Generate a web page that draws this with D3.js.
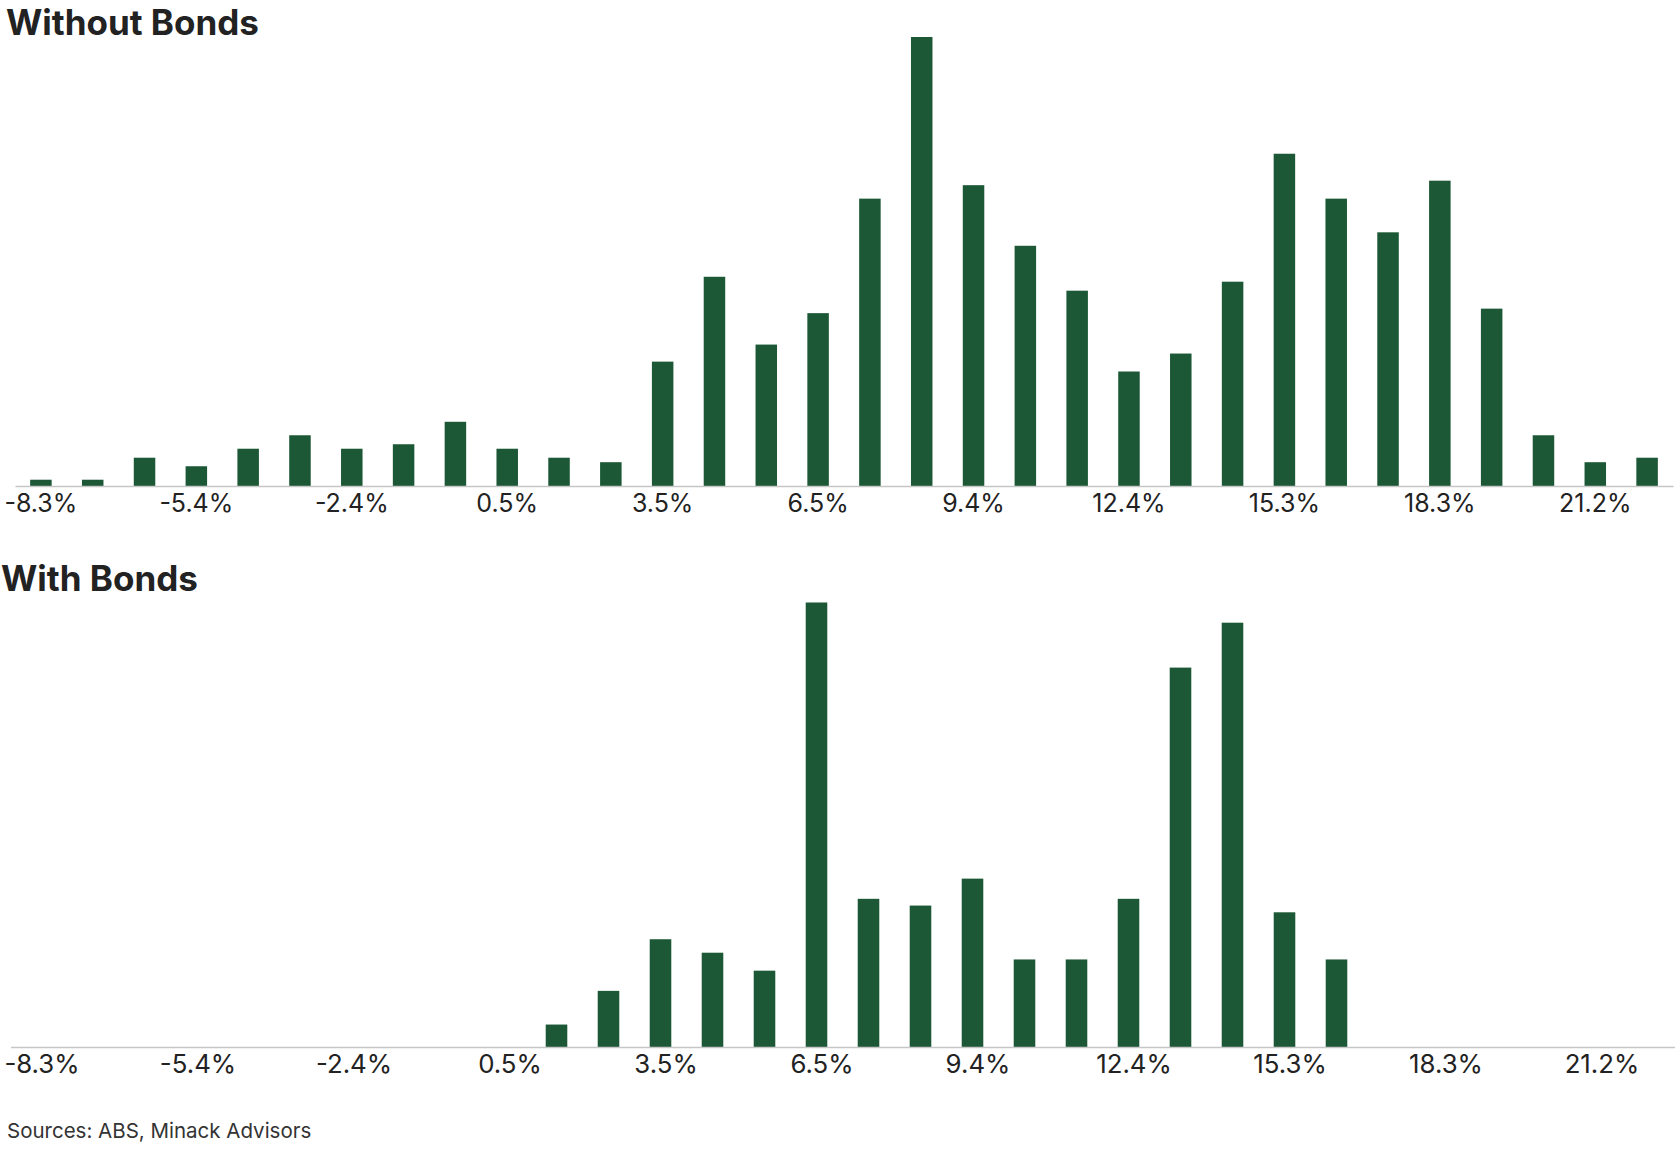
<!DOCTYPE html>
<html>
<head>
<meta charset="utf-8">
<script src="https://cdn.jsdelivr.net/npm/d3@7"></script>
<style>
  body { margin: 0; background: #fff; }
  .title { font-family: Inter, "Noto Sans", sans-serif; font-weight: 700; font-size: 35px; fill: #222; }
  .axis text { font-family: Inter, "Noto Sans", sans-serif; font-size: 25px; fill: #222; }
  .axis path { stroke: #c6c6c6; stroke-width: 1.5; }
  .source { font-family: Inter, "Noto Sans", sans-serif; font-size: 20.5px; fill: #333; }
</style>
</head>
<body>
<div id="chart"></div>
<script>
// return bins (one bar each)
var bins = ["-8.3%","-7.3%","-6.3%","-5.4%","-4.4%","-3.4%","-2.4%","-1.4%","-0.4%","0.5%",
            "1.5%","2.5%","3.5%","4.5%","5.5%","6.5%","7.4%","8.4%","9.4%","10.4%",
            "11.4%","12.4%","13.3%","14.3%","15.3%","16.3%","17.3%","18.3%","19.2%","20.2%",
            "21.2%","22.2%"];

// labels shown under each axis
var tickLabels = ["-8.3%","-5.4%","-2.4%","0.5%","3.5%","6.5%","9.4%","12.4%","15.3%","18.3%","21.2%"];

// bar heights
var withoutBonds = [1.4, 1.4, 6.3, 4.4, 8.3, 11.3, 8.3, 9.3, 14.3, 8.3,
                    6.3, 5.3, 27.7, 46.6, 31.5, 38.5, 64, 100, 67, 53.5,
                    43.5, 25.5, 29.5, 45.5, 74, 64, 56.5, 68, 39.5, 11.3,
                    5.3, 6.3];
var withBonds = [0, 0, 0, 0, 0, 0, 0, 0, 0, 0,
                 5, 12.5, 24, 21, 17, 99, 33, 31.5, 37.5, 19.5,
                 19.5, 33, 84.5, 94.5, 30, 19.5, 0, 0, 0, 0,
                 0, 0];

var width = 1680, height = 1150;

var svg = d3.select("#chart").append("svg")
    .attr("width", width)
    .attr("height", height);

function panel(values, x0, x1, top, base, labelShift, labelSize) {
    var x = d3.scaleBand()
        .domain(bins)
        .range([x0, x1])
        .paddingInner(0.585)
        .paddingOuter(0.2925);
    var y = d3.scaleLinear().domain([0, 100]).range([base, top]);
    var g = svg.append("g");

    g.selectAll("rect")
        .data(values.map((v, i) => ({bin: bins[i], v: v})).filter(d => d.v > 0))
        .enter().append("rect")
        .attr("x", d => x(d.bin))
        .attr("width", x.bandwidth())
        .attr("y", d => y(d.v))
        .attr("height", d => base - y(d.v))
        .attr("fill", "#1c5835");

    var ax = g.append("g")
        .attr("class", "axis")
        .attr("transform", "translate(0," + base + ")")
        .call(d3.axisBottom(x).tickValues(tickLabels).tickSize(0).tickPadding(8));
    ax.selectAll(".tick text")
        .attr("dx", labelShift)
        .style("font-size", labelSize + "px");
    ax.select(".domain").attr("fill", "none");
}

// Without Bonds
panel(withoutBonds, 15, 1673, 37, 486, 0, 25);
// With Bonds
panel(withBonds, 10.5, 1674.5, 598, 1047, 5.5, 25.8);

svg.append("text").attr("class", "title")
    .attr("x", 6).attr("y", 34.5)
    .text("Without Bonds");

svg.append("text").attr("class", "title")
    .attr("x", 1).attr("y", 591)
    .text("With Bonds");

svg.append("text").attr("class", "source")
    .attr("x", 7).attr("y", 1138)
    .text("Sources: ABS, Minack Advisors");
</script>
</body>
</html>
